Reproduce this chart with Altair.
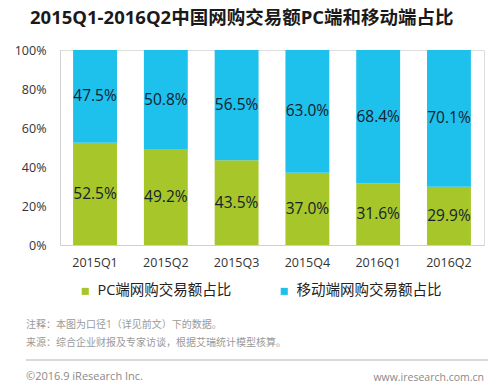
import altair as alt
import pandas as pd

quarters = ["2015Q1", "2015Q2", "2015Q3", "2015Q4", "2016Q1", "2016Q2"]
pc_share = [52.5, 49.2, 43.5, 37.0, 31.6, 29.9]
mobile_share = [47.5, 50.8, 56.5, 63.0, 68.4, 70.1]
series_names = ["PC端网购交易额占比", "移动端网购交易额占比"]
series_colors = ["#a6c62a", "#1ec0ec"]
y_ticks = [0, 20, 40, 60, 80, 100]

title_text = ["2015Q1-2016Q2中国网购交易额PC端和移动端占比"]
note_texts = ["注释：本图为口径1（详见前文）下的数据。",
              "来源：综合企业财报及专家访谈，根据艾瑞统计模型核算。"]
copyright_text = ["©2016.9 iResearch Inc."]
site_text = ["www.iresearch.com.cn"]

FONT = "Open Sans, Noto Sans CJK SC, sans-serif"

rows = []
for i, q in enumerate(quarters):
    rows.append({"quarter": q, "series": series_names[0], "value": pc_share[i], "ord": 0})
    rows.append({"quarter": q, "series": series_names[1], "value": mobile_share[i], "ord": 1})
df = pd.DataFrame(rows)

x_axis = alt.Axis(labelAngle=0, labelFontSize=12.5, labelColor="#333333",
                  labelFont=FONT, ticks=False, labelPadding=11,
                  domainColor="#d0d0d0", domainWidth=1)
y_axis = alt.Axis(values=y_ticks, labelExpr="datum.value + '%'",
                  labelFontSize=12.5, labelColor="#333333", labelFont=FONT,
                  ticks=False, labelPadding=14, grid=False,
                  labelOverlap=False, labelFlush=False, labelBound=False,
                  domainColor="#d0d0d0", domainWidth=1)
x_scale = alt.Scale(paddingInner=0.38, paddingOuter=0.185)
y_scale = alt.Scale(domain=[0, 100], nice=False)

base = alt.Chart(df)

bars = base.mark_bar().encode(
    x=alt.X("quarter:N", sort=quarters, title=None, scale=x_scale, axis=x_axis),
    y=alt.Y("value:Q", stack="zero", title=None, scale=y_scale, axis=y_axis),
    color=alt.Color("series:N", scale=alt.Scale(domain=series_names, range=series_colors),
                    legend=alt.Legend(title=None, orient="none", direction="horizontal",
                                      legendX=18, legendY=234, symbolType="square",
                                      symbolSize=50, symbolStrokeWidth=0,
                                      labelFontSize=14.5, labelFont=FONT,
                                      labelColor="#222222", columnPadding=45,
                                      labelOffset=5)),
    order=alt.Order("ord:Q"),
)

labels = base.transform_stack(
    stack="value", groupby=["quarter"], as_=["y0", "y1"],
    sort=[alt.SortField("ord", order="ascending")]
).transform_calculate(
    mid="(datum.y0 + datum.y1) / 2",
    lab="format(datum.value, '.1f') + '%'"
).mark_text(fontSize=15.5, font=FONT, color="#15222e").encode(
    x=alt.X("quarter:N", sort=quarters, title=None, scale=x_scale, axis=x_axis),
    y=alt.Y("mid:Q", title=None, scale=y_scale, axis=y_axis),
    text="lab:N",
)

title = alt.Chart(pd.DataFrame({"t": title_text})).mark_text(
    align="left", baseline="middle", fontSize=18.5, fontWeight="bold",
    font=FONT, color="#1a1a1a"
).encode(x=alt.value(-30), y=alt.value(-32), text="t:N")

note1 = alt.Chart(pd.DataFrame({"t": [note_texts[0]]})).mark_text(
    align="left", baseline="middle", fontSize=10, font=FONT, color="#9a9a9a"
).encode(x=alt.value(-34), y=alt.value(275), text="t:N")
note2 = alt.Chart(pd.DataFrame({"t": [note_texts[1]]})).mark_text(
    align="left", baseline="middle", fontSize=10, font=FONT, color="#9a9a9a"
).encode(x=alt.value(-34), y=alt.value(293), text="t:N")

sep = alt.Chart(pd.DataFrame({"a": [0]})).mark_rule(color="#cccccc", strokeWidth=1.5).encode(
    x=alt.value(-34), x2=alt.value(428), y=alt.value(310)
)

copy = alt.Chart(pd.DataFrame({"t": copyright_text})).mark_text(
    align="left", baseline="middle", fontSize=11, font=FONT, color="#8a8a8a"
).encode(x=alt.value(-34), y=alt.value(327), text="t:N")

site = alt.Chart(pd.DataFrame({"t": site_text})).mark_text(
    align="right", baseline="middle", fontSize=10.5, font=FONT, color="#8a8a8a"
).encode(x=alt.value(424), y=alt.value(328), text="t:N")

chart = alt.layer(bars, labels, title, note1, note2, sep, copy, site).properties(
    width=424, height=195,
    autosize=alt.AutoSizeParams(type="none"),
    padding={"left": 52, "top": 42, "right": 8, "bottom": 146},
).configure_view(stroke=None).configure(background="white")

chart.save("out.html", embed_options={"renderer": "svg", "actions": False})
